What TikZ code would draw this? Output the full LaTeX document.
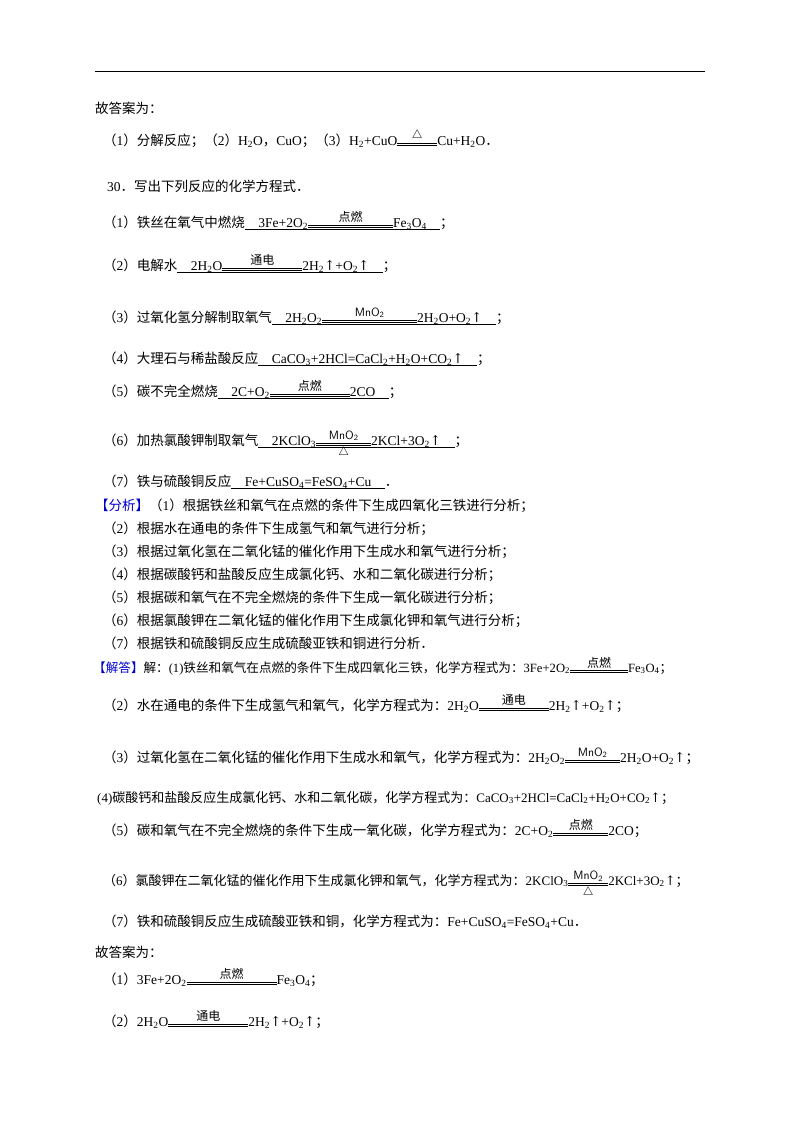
\documentclass[tikz,border=0pt]{standalone}
\usepackage{amsmath}
\usepackage{fontspec}
\setmainfont{Liberation Serif}
\newfontfamily\cjk{Noto Sans CJK SC}
\newfontfamily\tm{Liberation Serif}
\newfontfamily\dvs{DejaVu Serif}
\XeTeXinterchartokenstate=1
\newXeTeXintercharclass\CJKc
\count255="4E00 \loop \XeTeXcharclass\count255=\CJKc \advance\count255 1 \ifnum\count255<"A000 \repeat
\count255="3000 \loop \XeTeXcharclass\count255=\CJKc \advance\count255 1 \ifnum\count255<"3040 \repeat
\count255="FF00 \loop \XeTeXcharclass\count255=\CJKc \advance\count255 1 \ifnum\count255<"FFF0 \repeat
\XeTeXinterchartoks 0 \CJKc = {\cjk}
\XeTeXinterchartoks 4095 \CJKc = {\cjk}
\XeTeXinterchartoks \CJKc 0 = {\tm}
\XeTeXinterchartoks \CJKc 4095 = {\tm}
\newcommand\s[1]{\textsubscript{#1}}
\newcommand\up{{\dvs\char"2191}}
\newcommand\ul[1]{\setbox0\hbox{#1}\rlap{\rule[-2.5pt]{\wd0}{.5pt}}\box0}
\newcommand\eqc[3][60pt]{\ensuremath{{\mathop{\vbox{\hrule width #1 height .5pt\vskip1.5pt\hrule width #1 height .5pt}}\limits^{\text{\fontsize{12}{12}\selectfont #2}}_{\text{\fontsize{12}{12}\selectfont #3}}}}}
\newcommand\mn{\textsf{MnO\s{2}}}
\begin{document}
\begin{tikzpicture}[x=1pt,y=-1pt,
  txt/.style={anchor=base west,inner sep=0pt,font=\tm\fontsize{13.5}{16}\selectfont}]
\useasboundingbox[fill=white] (0,0) rectangle (800,1132);
\draw[line width=1pt] (95,72) -- (705,72);
\node[txt] (a0) at (95,113) {故答案为：};
\node[txt] (a1) at (103,145) {（1）分解反应；（2）H\s{2}O，CuO；（3）H\s{2}+CuO\eqc[40pt]{$\triangle$}{}Cu+H\s{2}O．};
\node[txt] (q0) at (107,191) {30．写出下列反应的化学方程式．};
\node[txt] (q1) at (103,227) {（1）铁丝在氧气中燃烧\ul{\quad 3Fe+2O\s{2}\eqc[85pt]{点燃}{}Fe\s{3}O\s{4}\quad}；};
\node[txt] (q2) at (103,270) {（2）电解水\ul{\quad 2H\s{2}O\eqc[80pt]{通电}{}2H\s{2}\up+O\s{2}\up\quad}；};
\node[txt] (q3) at (103,322) {（3）过氧化氢分解制取氧气\ul{\quad 2H\s{2}O\s{2}\eqc[95pt]{\mn}{}2H\s{2}O+O\s{2}\up\quad}；};
\node[txt] (q4) at (103,363) {（4）大理石与稀盐酸反应\ul{\quad CaCO\s{3}+2HCl=CaCl\s{2}+H\s{2}O+CO\s{2}\up\quad}；};
\node[txt] (q5) at (103,396) {（5）碳不完全燃烧\ul{\quad 2C+O\s{2}\eqc[80pt]{点燃}{}2CO\quad}；};
\node[txt] (q6) at (103,445) {（6）加热氯酸钾制取氧气\ul{\quad 2KClO\s{3}\eqc[55pt]{\mn}{$\triangle$}2KCl+3O\s{2}\up\quad}；};
\node[txt] (q7) at (103,486) {（7）铁与硫酸铜反应\ul{\quad Fe+CuSO\s{4}=FeSO\s{4}+Cu\quad}．};
\node[txt] (f1) at (95,510) {{\color[rgb]{0,0,0.8}【分析】}（1）根据铁丝和氧气在点燃的条件下生成四氧化三铁进行分析；};
\node[txt] (f2) at (103,533) {（2）根据水在通电的条件下生成氢气和氧气进行分析；};
\node[txt] (f3) at (103,556) {（3）根据过氧化氢在二氧化锰的催化作用下生成水和氧气进行分析；};
\node[txt] (f4) at (103,579) {（4）根据碳酸钙和盐酸反应生成氯化钙、水和二氧化碳进行分析；};
\node[txt] (f5) at (103,602) {（5）根据碳和氧气在不完全燃烧的条件下生成一氧化碳进行分析；};
\node[txt] (f6) at (103,625) {（6）根据氯酸钾在二氧化锰的催化作用下生成氯化钾和氧气进行分析；};
\node[txt] (f7) at (103,648) {（7）根据铁和硫酸铜反应生成硫酸亚铁和铜进行分析．};
\node[txt,font=\tm\fontsize{12.6}{15}\selectfont] (j1) at (93,672) {{\color[rgb]{0,0,0.8}【解答】}解：(1)铁丝和氧气在点燃的条件下生成四氧化三铁，化学方程式为：3Fe+2O\s{2}\eqc[58pt]{点燃}{}Fe\s{3}O\s{4}；};
\node[txt] (j2) at (103,710) {（2）水在通电的条件下生成氢气和氧气，化学方程式为：2H\s{2}O\eqc[70pt]{通电}{}2H\s{2}\up+O\s{2}\up；};
\node[txt] (j3) at (103,762) {（3）过氧化氢在二氧化锰的催化作用下生成水和氧气，化学方程式为：2H\s{2}O\s{2}\eqc[55pt]{\mn}{}2H\s{2}O+O\s{2}\up；};
\node[txt,font=\tm\fontsize{13}{15}\selectfont] (j4) at (97,802) {(4)碳酸钙和盐酸反应生成氯化钙、水和二氧化碳，化学方程式为：CaCO\s{3}+2HCl=CaCl\s{2}+H\s{2}O+CO\s{2}\up；};
\node[txt] (j5) at (103,835) {（5）碳和氧气在不完全燃烧的条件下生成一氧化碳，化学方程式为：2C+O\s{2}\eqc[55pt]{点燃}{}2CO；};
\node[txt,font=\tm\fontsize{13}{15}\selectfont] (j6) at (103,885) {（6）氯酸钾在二氧化锰的催化作用下生成氯化钾和氧气，化学方程式为：2KClO\s{3}\eqc[40pt]{\mn}{$\triangle$}2KCl+3O\s{2}\up；};
\node[txt] (j7) at (103,926) {（7）铁和硫酸铜反应生成硫酸亚铁和铜，化学方程式为：Fe+CuSO\s{4}=FeSO\s{4}+Cu．};
\node[txt] (g0) at (95,957) {故答案为：};
\node[txt] (g1) at (103,984) {（1）3Fe+2O\s{2}\eqc[90pt]{点燃}{}Fe\s{3}O\s{4}；};
\node[txt] (g2) at (103,1026) {（2）2H\s{2}O\eqc[80pt]{通电}{}2H\s{2}\up+O\s{2}\up；};
\end{tikzpicture}
\end{document}
